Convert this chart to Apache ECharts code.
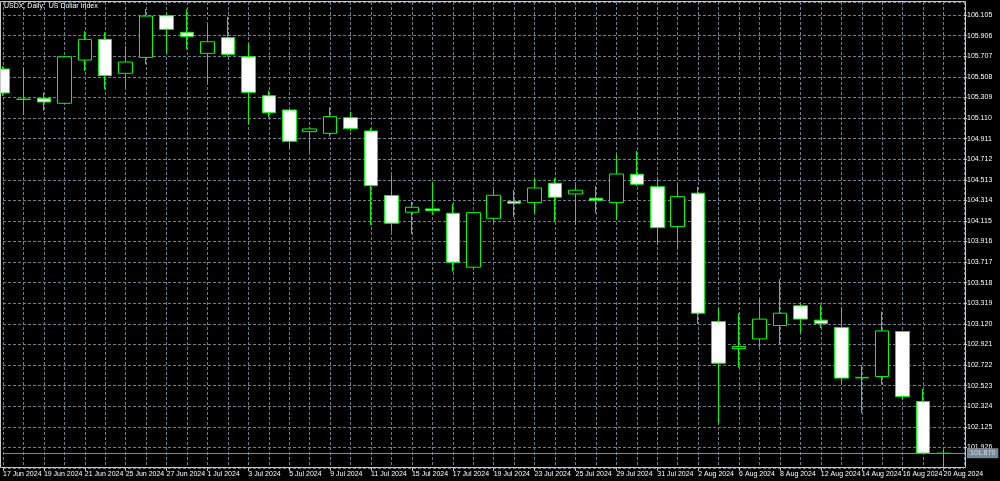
<!DOCTYPE html>
<html><head><meta charset="utf-8">
<script src="https://cdn.jsdelivr.net/npm/echarts@6/dist/echarts.min.js"></script>
<style>html,body{margin:0;padding:0;background:#000}#c{width:1000px;height:481px}</style>
</head><body><div id="c"></div>
<script>
const title = 'USDX, Daily:  US Dollar Index';
const dates = ['17 Jun 2024','18 Jun 2024','19 Jun 2024','20 Jun 2024','21 Jun 2024','24 Jun 2024','25 Jun 2024','26 Jun 2024','27 Jun 2024','28 Jun 2024',
  '1 Jul 2024','2 Jul 2024','3 Jul 2024','4 Jul 2024','5 Jul 2024','8 Jul 2024','9 Jul 2024','10 Jul 2024','11 Jul 2024','12 Jul 2024',
  '15 Jul 2024','16 Jul 2024','17 Jul 2024','18 Jul 2024','19 Jul 2024','22 Jul 2024','23 Jul 2024','24 Jul 2024','25 Jul 2024','26 Jul 2024',
  '29 Jul 2024','30 Jul 2024','31 Jul 2024','1 Aug 2024','2 Aug 2024','5 Aug 2024','6 Aug 2024','7 Aug 2024','8 Aug 2024','9 Aug 2024',
  '12 Aug 2024','13 Aug 2024','14 Aug 2024','15 Aug 2024','16 Aug 2024','19 Aug 2024','20 Aug 2024'];
const opens  = [105.583,105.291,105.300,105.252,105.670,105.870,105.542,105.696,106.098,105.938,
  105.735,105.886,105.702,105.325,105.187,104.978,104.962,105.113,104.984,104.361,
  104.199,104.231,104.189,103.668,104.141,104.302,104.292,104.479,104.376,104.334,
  104.292,104.566,104.446,104.060,104.383,103.142,102.881,102.975,103.104,103.294,
  103.156,103.084,102.598,102.611,103.046,102.370,101.868];
const closes = [105.352,105.291,105.265,105.702,105.870,105.519,105.651,106.095,105.967,105.899,
  105.847,105.725,105.358,105.161,104.885,105.004,105.123,105.007,104.456,104.093,
  104.247,104.215,103.716,104.195,104.363,104.286,104.434,104.344,104.412,104.315,
  104.569,104.470,104.050,104.350,103.223,102.740,102.901,103.166,103.223,103.166,
  103.123,102.596,102.603,103.052,102.418,101.871,101.870];
const lows   = [105.323,105.139,105.181,105.245,105.564,105.387,105.397,105.629,105.735,105.774,
  105.451,105.702,105.049,105.117,104.817,104.785,104.929,104.987,104.076,104.012,
  103.990,104.173,103.625,103.642,104.093,104.151,104.189,104.108,104.076,104.189,
  104.125,104.453,103.883,103.851,103.120,102.161,102.698,102.895,102.927,103.036,
  103.079,102.531,102.257,102.531,102.396,101.869,101.710];
const highs  = [105.612,105.593,105.354,105.709,105.950,105.938,105.806,106.163,106.121,106.160,
  106.008,106.089,105.832,105.374,105.197,105.026,105.213,105.171,105.011,104.557,
  104.302,104.495,104.279,104.205,104.421,104.415,104.528,104.528,104.463,104.453,
  104.753,104.791,104.528,104.463,104.446,103.272,103.223,103.362,103.552,103.320,
  103.304,103.278,102.724,103.239,103.053,102.492,101.903];
const lastPrice = 101.870;
const yMin = 101.727, yMax = 106.231, yStep = 0.199;

const categories = dates.concat(['']);
const candles = dates.map((d, i) => [opens[i], closes[i], lows[i], highs[i]]);
const FONT = '"Liberation Sans", "DejaVu Sans", sans-serif';

const chart = echarts.init(document.getElementById('c'), null, {renderer: 'canvas'});
chart.setOption({
  backgroundColor: '#000000',
  animation: false,
  title: {text: title, left: 4, top: 3, padding: 0, textStyle: {color: '#ffffff', fontSize: 7, fontWeight: 'normal', fontFamily: FONT}},
  grid: {left: 2, right: 36, top: 2, bottom: 13, show: false},
  xAxis: {
    type: 'category', data: categories, boundaryGap: false,
    axisLine: {show: false},
    axisTick: {show: true, interval: 1, length: 3, lineStyle: {color: '#c0c0c0'}},
    axisLabel: {show: true, interval: 1, showMinLabel: true, hideOverlap: false, align: 'left', margin: 3, color: '#ffffff', fontSize: 7, fontFamily: FONT},
    splitLine: {show: true, interval: 0, lineStyle: {color: '#6f7f90', type: [3, 2], width: 1}}
  },
  yAxis: {
    type: 'value', position: 'right', scale: true,
    min: yMin, max: yMax, interval: yStep,
    axisLine: {show: false},
    axisTick: {show: true, length: 3, lineStyle: {color: '#c0c0c0'}},
    axisLabel: {show: true, showMinLabel: false, showMaxLabel: false, margin: 3, color: '#ffffff', fontSize: 7, fontFamily: FONT,
      formatter: v => v.toFixed(3)},
    splitLine: {show: true, lineStyle: {color: '#6f7f90', type: [3, 2], width: 1}}
  },
  graphic: [{type: 'rect', z: 100, silent: true, shape: {x: 0.5, y: 1.5, width: 965, height: 466},
    style: {fill: 'none', stroke: '#c8c8c8', lineWidth: 1}}],
  series: [{
    type: 'candlestick', data: candles, barWidth: 14,
    itemStyle: {color: '#000000', color0: '#ffffff', borderColor: '#00ff00', borderColor0: '#00ff00', borderColorDoji: '#00ff00', borderWidth: 1},
    markLine: {
      silent: true, symbol: ['none', 'none'], animation: false,
      lineStyle: {color: '#778899', type: 'solid', width: 1},
      label: {show: true, position: 'end', distance: 3, formatter: lastPrice.toFixed(3), color: '#d8dde4',
        backgroundColor: '#778899', padding: [2, 3, 1, 3], fontSize: 7, fontFamily: FONT},
      data: [{yAxis: lastPrice}]
    }
  }]
});
</script></body></html>
